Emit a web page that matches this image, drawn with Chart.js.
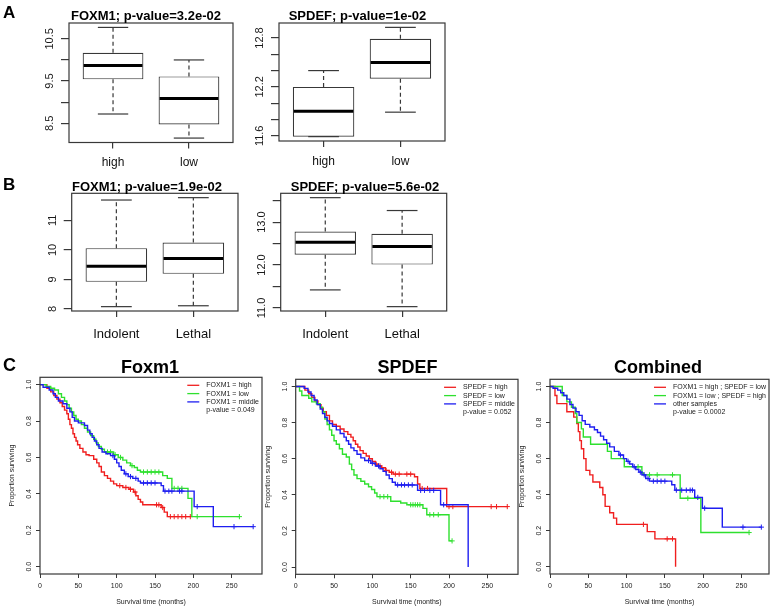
<!DOCTYPE html>
<html>
<head>
<meta charset="utf-8">
<script src="https://cdn.jsdelivr.net/npm/chart.js@4.4.0/dist/chart.umd.min.js"></script>
<style>
  body { margin: 0; background: #fff; width: 773px; height: 611px; position: relative; overflow: hidden;
         font-family: "Liberation Sans", Arial, Helvetica, sans-serif; }
  canvas { position: absolute; }
  .ttl { position: absolute; font-weight: bold; white-space: nowrap; line-height: 1; color: #000; transform: translateX(-50%); }
  .tag { position: absolute; font-weight: bold; line-height: 1; color: #000; }
</style>
</head>
<body>
<script>
const FONT = '"Liberation Sans", Arial, Helvetica, sans-serif';
const ink = '#383838';

// ---- A / B : boxplots, each row is [lower whisker, Q1, median, Q3, upper whisker] ----
const groupsA = ['high', 'low'];
const groupsB = ['Indolent', 'Lethal'];
const a1Foxm1 = [[8.72, 9.54, 9.87, 10.17, 10.77], [8.15, 8.47, 9.09, 9.61, 10.0]];
const a2Spdef = [[11.59, 11.59, 11.90, 12.20, 12.40], [11.89, 12.30, 12.50, 12.79, 12.93]];
const b1Foxm1 = [[8.08, 8.92, 9.45, 10.06, 11.69], [8.11, 9.19, 9.71, 10.25, 11.77]];
const b2Spdef = [[11.42, 12.24, 12.53, 12.78, 13.57], [11.03, 12.01, 12.43, 12.73, 13.27]];

const a1Ticks = [8.5, 9, 9.5, 10, 10.5];
const a1Labels = ['8.5', '', '9.5', '', '10.5'];
const a2Ticks = [11.6, 11.8, 12.0, 12.2, 12.4, 12.6, 12.8];
const a2Labels = ['11.6', '', '', '12.2', '', '', '12.8'];
const b1Ticks = [8, 9, 10, 11];
const b1Labels = ['8', '9', '10', '11'];
const b2Ticks = [11.0, 11.5, 12.0, 12.5, 13.0, 13.5];
const b2Labels = ['11.0', '', '12.0', '', '13.0', ''];

// ---- C : Kaplan-Meier curves (event times, survival after event, censor times) ----
const kmXTicks = [0, 50, 100, 150, 200, 250];
const kmYTicks = [0, 0.2, 0.4, 0.6, 0.8, 1.0];

const fxHighT = [0, 9, 14, 18, 22, 26, 29, 32, 35, 37, 39, 41, 43, 45, 47, 49, 52, 56, 60, 64, 70, 74, 77, 80, 84, 88, 92, 96, 100, 108, 116, 122, 125, 128, 131, 134, 158, 162, 166];
const fxHighS = [1.0, 0.98, 0.96, 0.94, 0.92, 0.90, 0.88, 0.86, 0.84, 0.81, 0.78, 0.76, 0.73, 0.71, 0.69, 0.67, 0.65, 0.63, 0.615, 0.61, 0.59, 0.57, 0.55, 0.52, 0.50, 0.485, 0.47, 0.455, 0.445, 0.435, 0.425, 0.41, 0.39, 0.37, 0.355, 0.34, 0.325, 0.30, 0.275];
const fxHighC = [104, 112, 118, 124, 152, 155, 160, 170, 175, 180, 185, 190, 196];
const fxLowT = [0, 8, 14, 19, 24, 28, 32, 35, 38, 41, 44, 47, 50, 54, 58, 62, 66, 70, 73, 76, 80, 84, 96, 102, 108, 113, 118, 123, 127, 131, 160, 166, 172, 193, 198];
const fxLowS = [1.0, 0.99, 0.98, 0.97, 0.95, 0.93, 0.91, 0.89, 0.87, 0.85, 0.83, 0.81, 0.80, 0.78, 0.76, 0.74, 0.72, 0.70, 0.68, 0.66, 0.645, 0.63, 0.615, 0.60, 0.585, 0.57, 0.555, 0.545, 0.53, 0.52, 0.50, 0.485, 0.43, 0.375, 0.275];
const fxLowC = [88, 92, 98, 105, 120, 135, 140, 145, 150, 155, 175, 180, 185, 205, 260];
const fxMidT = [0, 4, 12, 17, 20, 24, 30, 35, 39, 42, 45, 50, 58, 62, 65, 68, 71, 74, 77, 81, 86, 92, 97, 100, 103, 106, 110, 115, 121, 128, 131, 158, 161, 201, 226];
const fxMidS = [1.0, 0.985, 0.97, 0.95, 0.93, 0.91, 0.895, 0.87, 0.85, 0.82, 0.80, 0.79, 0.775, 0.75, 0.73, 0.71, 0.69, 0.67, 0.65, 0.63, 0.62, 0.61, 0.59, 0.57, 0.55, 0.53, 0.51, 0.495, 0.485, 0.47, 0.46, 0.445, 0.415, 0.33, 0.22];
const fxMidC = [95, 112, 118, 125, 135, 140, 145, 150, 163, 168, 172, 182, 185, 205, 253, 278];

const spHighT = [0, 12, 17, 21, 25, 29, 33, 36, 40, 44, 48, 53, 58, 63, 68, 72, 75, 78, 81, 84, 88, 92, 96, 100, 104, 108, 112, 117, 122, 127, 155, 159, 162, 197];
const spHighS = [1.0, 0.98, 0.96, 0.94, 0.92, 0.90, 0.88, 0.86, 0.84, 0.81, 0.79, 0.78, 0.765, 0.75, 0.735, 0.72, 0.70, 0.68, 0.665, 0.645, 0.63, 0.615, 0.60, 0.585, 0.57, 0.56, 0.55, 0.535, 0.525, 0.515, 0.50, 0.46, 0.435, 0.335];
const spHighC = [105, 110, 118, 125, 130, 135, 145, 150, 165, 172, 200, 205, 255, 262, 276];
const spLowT = [0, 5, 8, 17, 21, 27, 32, 35, 38, 41, 44, 47, 50, 53, 57, 61, 66, 70, 73, 76, 80, 85, 90, 95, 99, 103, 106, 124, 137, 145, 166, 171, 200];
const spLowS = [1.0, 0.975, 0.95, 0.935, 0.915, 0.905, 0.885, 0.86, 0.82, 0.79, 0.76, 0.73, 0.70, 0.68, 0.655, 0.625, 0.61, 0.57, 0.54, 0.51, 0.49, 0.475, 0.46, 0.445, 0.43, 0.41, 0.39, 0.365, 0.355, 0.345, 0.325, 0.29, 0.145];
const spLowC = [110, 115, 120, 150, 153, 156, 159, 162, 175, 180, 186, 204];
const spMidT = [0, 11, 16, 20, 24, 28, 32, 35, 38, 41, 44, 48, 53, 58, 63, 66, 69, 72, 76, 80, 85, 90, 98, 104, 110, 114, 118, 122, 126, 130, 159, 189, 225];
const spMidS = [1.0, 0.99, 0.97, 0.95, 0.925, 0.90, 0.875, 0.85, 0.83, 0.81, 0.795, 0.78, 0.76, 0.74, 0.72, 0.70, 0.68, 0.66, 0.645, 0.625, 0.605, 0.59, 0.575, 0.56, 0.545, 0.53, 0.51, 0.49, 0.47, 0.455, 0.425, 0.345, 0.0];
const spMidC = [95, 100, 108, 133, 138, 142, 147, 152, 163, 168, 175, 180, 193];

const cbFhT = [0, 6.5, 9, 22, 31, 35, 37, 39, 41, 44, 47, 52, 56, 65, 69, 72, 78, 83, 87, 127, 137, 164];
const cbFhS = [1.0, 0.95, 0.905, 0.86, 0.83, 0.795, 0.75, 0.70, 0.655, 0.60, 0.535, 0.51, 0.47, 0.44, 0.40, 0.335, 0.30, 0.27, 0.235, 0.195, 0.155, 0.0];
const cbFhC = [122, 153, 160];
const cbFlT = [0, 16, 22, 28, 33, 35, 41, 43.5, 53, 75, 80, 97, 120, 122, 170, 197];
const cbFlS = [1.0, 0.95, 0.915, 0.885, 0.85, 0.80, 0.765, 0.72, 0.68, 0.64, 0.60, 0.555, 0.52, 0.51, 0.38, 0.19];
const cbFlC = [115, 130, 140, 160, 180, 260];
const cbOtT = [0, 4, 10, 14, 18, 22, 26, 30, 34, 38, 42, 46, 52, 58, 62, 66, 70, 74, 78, 84, 90, 96, 100, 104, 108, 112, 116, 120, 125, 130, 159, 163, 189, 199, 225];
const cbOtS = [1.0, 0.99, 0.98, 0.965, 0.95, 0.93, 0.90, 0.88, 0.86, 0.84, 0.81, 0.79, 0.775, 0.76, 0.745, 0.725, 0.705, 0.685, 0.665, 0.64, 0.62, 0.60, 0.585, 0.57, 0.555, 0.54, 0.525, 0.51, 0.49, 0.475, 0.455, 0.425, 0.385, 0.325, 0.22];
const cbOtC = [92, 102, 110, 118, 123, 128, 135, 140, 145, 150, 165, 172, 178, 183, 186, 193, 202, 252, 276];

const kmColors = ['#f01e1e', '#2ee02e', '#1e1ef0'];

function seg(ctx, x1, y1, x2, y2) {
  ctx.beginPath(); ctx.moveTo(x1, y1); ctx.lineTo(x2, y2); ctx.stroke();
}

// R-like extras: box whiskers, frame, rotated y labels, axis titles, small legend
Chart.register({
  id: 'rStyle',
  afterDatasetsDraw(chart) {
    const { ctx, scales: { x, y } } = chart;
    chart.data.datasets.forEach(ds => {
      if (!ds.stats) return;
      ds.stats.forEach((s, i) => {
        const cx = x.getPixelForValue(i + 1);
        const hw = x.getPixelForValue(i + 1.4) - cx;
        const sw = hw / 2;
        const [lo, q1, med, q3, hi] = s.map(v => y.getPixelForValue(v));
        ctx.save();
        ctx.strokeStyle = ink; ctx.lineWidth = 1.2;
        ctx.setLineDash([4, 3]);
        seg(ctx, cx, q3, cx, hi); seg(ctx, cx, q1, cx, lo);
        ctx.setLineDash([]);
        seg(ctx, cx - sw, hi, cx + sw, hi); seg(ctx, cx - sw, lo, cx + sw, lo);
        ctx.strokeStyle = '#000'; ctx.lineWidth = 3;
        seg(ctx, cx - hw + 1, med, cx + hw - 1, med);
        ctx.restore();
      });
    });
  },
  afterDraw(chart, args, o) {
    const { ctx, chartArea: a, scales: { y } } = chart;
    ctx.save();
    ctx.strokeStyle = ink; ctx.lineWidth = 1.2;
    ctx.strokeRect(a.left, a.top, a.right - a.left, a.bottom - a.top);
    ctx.fillStyle = '#1a1a1a';
    ctx.textAlign = 'center'; ctx.textBaseline = 'middle';
    ctx.font = o.tickSize + 'px ' + FONT;
    y.ticks.forEach((t, i) => {
      if (!t.label) return;
      ctx.save();
      ctx.translate(a.left - o.yOff, y.getPixelForTick(i));
      ctx.rotate(-Math.PI / 2);
      ctx.fillText(t.label, 0, 0);
      ctx.restore();
    });
    if (o.xTitle) {
      ctx.font = '7px ' + FONT;
      ctx.fillText(o.xTitle, (a.left + a.right) / 2, a.bottom + 28);
      ctx.save();
      ctx.translate(a.left - 28, (a.top + a.bottom) / 2);
      ctx.rotate(-Math.PI / 2);
      ctx.fillText(o.yTitle, 0, 0);
      ctx.restore();
    }
    if (o.pvalue) {
      ctx.font = '7px ' + FONT;
      const rows = chart.data.datasets.map(d => d.label).concat([o.pvalue]);
      const w = Math.max(...rows.map(r => ctx.measureText(r).width));
      const tx = a.right - 3 - w;
      ctx.textAlign = 'left';
      rows.forEach((r, i) => {
        const yy = a.top + 8 + i * 8.3;
        const ds = chart.data.datasets[i];
        if (ds) {
          ctx.strokeStyle = ds.borderColor; ctx.lineWidth = 1.3;
          seg(ctx, tx - 19, yy, tx - 7, yy);
        }
        ctx.fillText(r, tx, yy);
      });
    }
    ctx.restore();
  }
});

function mk(rect) {
  const c = document.createElement('canvas');
  c.width = rect.width; c.height = rect.height;
  c.style.left = rect.left + 'px'; c.style.top = rect.top + 'px';
  document.body.appendChild(c);
  return c;
}

function fit(rect, area) {
  return {
    padding: { left: 0, bottom: 0, top: area.top - rect.top, right: rect.left + rect.width - area.right },
    yW: area.left - rect.left,
    xH: rect.top + rect.height - area.bottom
  };
}

function boxChart(stats, groups, yTicks, yLabels, rect, area, labSize, labPad) {
  const f = fit(rect, area);
  const all = stats.flat();
  const lo = Math.min(...all), hi = Math.max(...all), pad = (hi - lo) * 0.04;
  new Chart(mk(rect), {
    type: 'bar',
    data: {
      datasets: [{
        data: stats.map((s, i) => ({ x: i + 1, y: [s[1], s[3]] })),
        stats: stats,
        backgroundColor: '#fff', borderColor: ink, borderWidth: 1.2, borderSkipped: false,
        barPercentage: 0.8, categoryPercentage: 1
      }]
    },
    options: {
      responsive: false, animation: false, events: [],
      layout: { padding: f.padding },
      plugins: { legend: { display: false }, tooltip: { enabled: false }, rStyle: { yOff: 19, tickSize: 11 } },
      scales: {
        x: {
          type: 'linear', min: 0.42, max: groups.length + 0.58, offset: false,
          afterBuildTicks: s => { s.ticks = groups.map((g, i) => ({ value: i + 1 })); },
          ticks: { callback: (v, i) => groups[i], font: { family: FONT, size: labSize }, color: '#111', padding: labPad, maxRotation: 0, autoSkip: false },
          grid: { offset: false, drawOnChartArea: false, tickLength: 6, color: ink, lineWidth: 1.2 },
          border: { display: false },
          afterFit: s => { s.height = f.xH; }
        },
        y: {
          min: lo - pad, max: hi + pad, beginAtZero: false,
          afterBuildTicks: s => { s.ticks = yTicks.map(v => ({ value: v })); },
          ticks: { display: false, callback: (v, i) => yLabels[i] },
          grid: { drawOnChartArea: false, tickLength: 8, color: ink, lineWidth: 1.2 },
          border: { display: false },
          afterFit: s => { s.width = f.yW; }
        }
      }
    }
  });
}

function kmPoints(times, surv, cens) {
  const pts = times.map((t, i) => ({ x: t, y: surv[i], c: false }));
  cens.forEach(t => {
    let s = surv[0];
    times.forEach((tt, i) => { if (tt <= t) s = surv[i]; });
    pts.push({ x: t, y: s, c: true });
  });
  pts.sort((p, q) => p.x - q.x || (p.c - q.c));
  return pts;
}

function kmChart(curves, labels, pvalue, xMax, rect, area) {
  const f = fit(rect, area);
  new Chart(mk(rect), {
    type: 'line',
    data: {
      datasets: curves.map((cv, i) => ({
        label: labels[i],
        data: kmPoints(cv[0], cv[1], cv[2]),
        order: curves.length - 1 - i,
        borderColor: kmColors[i], backgroundColor: kmColors[i],
        borderWidth: 1.4, stepped: true, fill: false,
        pointStyle: 'cross', pointBorderColor: kmColors[i], pointBorderWidth: 1,
        pointRadius: c => (c.raw && c.raw.c ? 2.6 : 0), pointHoverRadius: 0
      }))
    },
    options: {
      responsive: false, animation: false, events: [],
      layout: { padding: f.padding },
      plugins: {
        legend: { display: false }, tooltip: { enabled: false },
        rStyle: { yOff: 11, tickSize: 7, xTitle: 'Survival time (months)', yTitle: 'Proportion surviving', pvalue: pvalue }
      },
      scales: {
        x: {
          type: 'linear', min: 0, max: xMax,
          afterBuildTicks: s => { s.ticks = kmXTicks.map(v => ({ value: v })); },
          ticks: { font: { family: FONT, size: 7 }, color: '#1a1a1a', padding: 3.5, maxRotation: 0, autoSkip: false },
          grid: { drawOnChartArea: false, tickLength: 4, color: ink },
          border: { display: false },
          afterFit: s => { s.height = f.xH; }
        },
        y: {
          type: 'linear', min: -0.04, max: 1.04,
          afterBuildTicks: s => { s.ticks = kmYTicks.map(v => ({ value: v })); },
          ticks: { display: false, callback: v => v.toFixed(1) },
          grid: { drawOnChartArea: false, tickLength: 4, color: ink },
          border: { display: false },
          afterFit: s => { s.width = f.yW; }
        }
      }
    }
  });
}

function text(cls, str, size, x, baseline) {
  const d = document.createElement('div');
  d.className = cls;
  d.textContent = str;
  d.style.fontSize = size + 'px';
  d.style.left = x + 'px';
  d.style.top = (baseline - 0.847 * size) + 'px';
  document.body.appendChild(d);
}

boxChart(a1Foxm1, groupsA, a1Ticks, a1Labels, { left: 20, top: 0, width: 220, height: 175 }, { left: 69, top: 23, right: 233, bottom: 142.5 }, 12, 7);
boxChart(a2Spdef, groupsA, a2Ticks, a2Labels, { left: 245, top: 0, width: 210, height: 175 }, { left: 279, top: 23, right: 445, bottom: 141 }, 12, 7);
boxChart(b1Foxm1, groupsB, b1Ticks, b1Labels, { left: 20, top: 178, width: 225, height: 170 }, { left: 71.7, top: 193.3, right: 238, bottom: 311 }, 13, 10);
boxChart(b2Spdef, groupsB, b2Ticks, b2Labels, { left: 250, top: 178, width: 205, height: 170 }, { left: 280.7, top: 193.3, right: 446.7, bottom: 311 }, 13, 10);

kmChart([[fxHighT, fxHighS, fxHighC], [fxLowT, fxLowS, fxLowC], [fxMidT, fxMidS, fxMidC]],
  ['FOXM1 = high', 'FOXM1 = low', 'FOXM1 = middle'], 'p-value = 0.049', 289.5,
  { left: 0, top: 370, width: 266, height: 241 }, { left: 40, top: 377.3, right: 262, bottom: 574 });
kmChart([[spHighT, spHighS, spHighC], [spLowT, spLowS, spLowC], [spMidT, spMidS, spMidC]],
  ['SPEDF = high', 'SPEDF = low', 'SPEDF = middle'], 'p-value = 0.052', 290,
  { left: 262, top: 370, width: 261, height: 241 }, { left: 295.7, top: 379.3, right: 518, bottom: 574.3 });
kmChart([[cbFhT, cbFhS, cbFhC], [cbFlT, cbFlS, cbFlC], [cbOtT, cbOtS, cbOtC]],
  ['FOXM1 = high ; SPEDF = low', 'FOXM1 = low ; SPEDF = high', 'other samples'], 'p-value = 0.0002', 286,
  { left: 516, top: 370, width: 257, height: 241 }, { left: 550, top: 379.3, right: 769, bottom: 574 });

text('ttl', 'FOXM1; p-value=3.2e-02', 13, 146, 20);
text('ttl', 'SPDEF; p-value=1e-02', 13, 357.5, 20);
text('ttl', 'FOXM1; p-value=1.9e-02', 13, 147, 190.7);
text('ttl', 'SPDEF; p-value=5.6e-02', 13, 365, 190.7);
text('ttl', 'Foxm1', 18, 150, 373);
text('ttl', 'SPDEF', 18, 407.5, 373);
text('ttl', 'Combined', 18, 658, 373);
text('tag', 'A', 17, 3, 18.5);
text('tag', 'B', 17, 3, 190.7);
text('tag', 'C', 18, 3, 371.7);
</script>
</body>
</html>
